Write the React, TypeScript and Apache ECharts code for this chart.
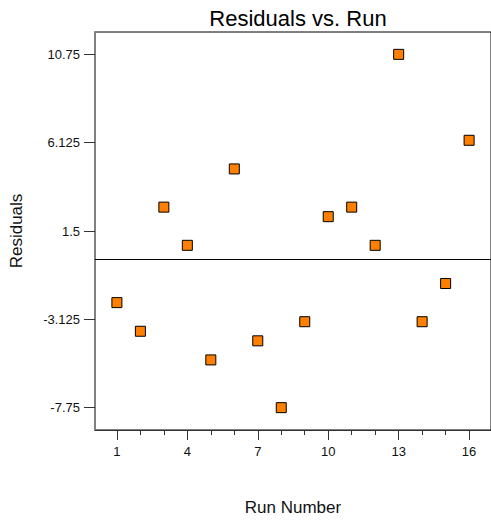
import React, { useEffect, useRef } from "react";
import * as echarts from "echarts";

const runs: number[] = [1, 2, 3, 4, 5, 6, 7, 8, 9, 10, 11, 12, 13, 14, 15, 16];
const residuals: number[] = [
  -2.25, -3.75, 2.75, 0.75, -5.25, 4.75, -4.25, -7.75, -3.25, 2.25, 2.75, 0.75, 10.75, -3.25, -1.25, 6.25,
];
const yTicks: number[] = [-7.75, -3.125, 1.5, 6.125, 10.75];
const xMajorTicks: number[] = [1, 4, 7, 10, 13, 16];
const xMinorTicks: number[] = runs;

const FONT = "'Liberation Sans', Arial, sans-serif";

export default function App() {
  const ref = useRef<HTMLDivElement>(null);
  useEffect(() => {
    if (!ref.current) return;
    const chart = echarts.init(ref.current, null, { renderer: "svg" });
    const xMin = 0.067;
    const xMax = 16.933;
    chart.setOption({
      animation: false,
      backgroundColor: "#ffffff",
      textStyle: { fontFamily: FONT },
      title: {
        text: "Residuals vs. Run",
        left: 293,
        textAlign: "center",
        top: 2,
        textStyle: { fontFamily: FONT, fontSize: 22, fontWeight: "normal", color: "#000" },
      },
      grid: {
        left: 94,
        top: 32,
        right: -1,
        bottom: 93,
        show: true,
        borderColor: "#000",
        borderWidth: 1,
        backgroundColor: "transparent",
      },
      xAxis: [
        {
          type: "value",
          min: xMin,
          max: xMax,
          position: "bottom",
          axisLine: { show: true, onZero: false, lineStyle: { color: "#333", width: 1 } },
          axisTick: { show: true, customValues: xMinorTicks, length: 5, lineStyle: { color: "#333" } },
          axisLabel: { show: false },
          splitLine: { show: false },
        },
        {
          type: "value",
          min: xMin,
          max: xMax,
          position: "bottom",
          axisLine: { show: false, onZero: false },
          axisTick: { show: true, customValues: xMajorTicks, length: 10, lineStyle: { color: "#333" } },
          axisLabel: {
            show: true,
            customValues: xMajorTicks,
            margin: 15,
            fontSize: 13,
            color: "#111",
            fontFamily: FONT,
          },
          splitLine: { show: false },
          name: "Run Number",
          nameLocation: "middle",
          nameGap: 69,
          nameTextStyle: { fontSize: 17, color: "#111", fontFamily: FONT },
        },
      ],
      yAxis: {
        type: "value",
        min: -8.92,
        max: 11.92,
        axisLine: { show: true, onZero: false, lineStyle: { color: "#808080", width: 2 } },
        axisTick: { show: true, customValues: yTicks, length: 11, lineStyle: { color: "#333" } },
        axisLabel: {
          show: true,
          customValues: yTicks,
          margin: 15,
          fontSize: 13,
          color: "#111",
          fontFamily: FONT,
          formatter: (v: number) => String(v),
        },
        splitLine: { show: false },
        name: "Residuals",
        nameLocation: "middle",
        nameGap: 70,
        nameTextStyle: { fontSize: 17, color: "#111", fontFamily: FONT },
      },
      series: [
        {
          type: "scatter",
          xAxisIndex: 0,
          data: runs.map((r, i) => [r, residuals[i]]),
          symbol: "rect",
          symbolSize: 10,
          itemStyle: {
            color: "#ff8000",
            borderColor: "#000",
            borderWidth: 1,
            opacity: 1,
          },
          markLine: {
            silent: true,
            symbol: "none",
            label: { show: false },
            lineStyle: { color: "#000", width: 1, type: "solid" },
            data: [{ yAxis: 0 }],
          },
          z: 3,
        },
      ],
    });
    return () => chart.dispose();
  }, []);
  return (
    <div
      ref={ref}
      style={{ position: "fixed", left: 0, top: 0, width: 491, height: 523 }}
    />
  );
}
